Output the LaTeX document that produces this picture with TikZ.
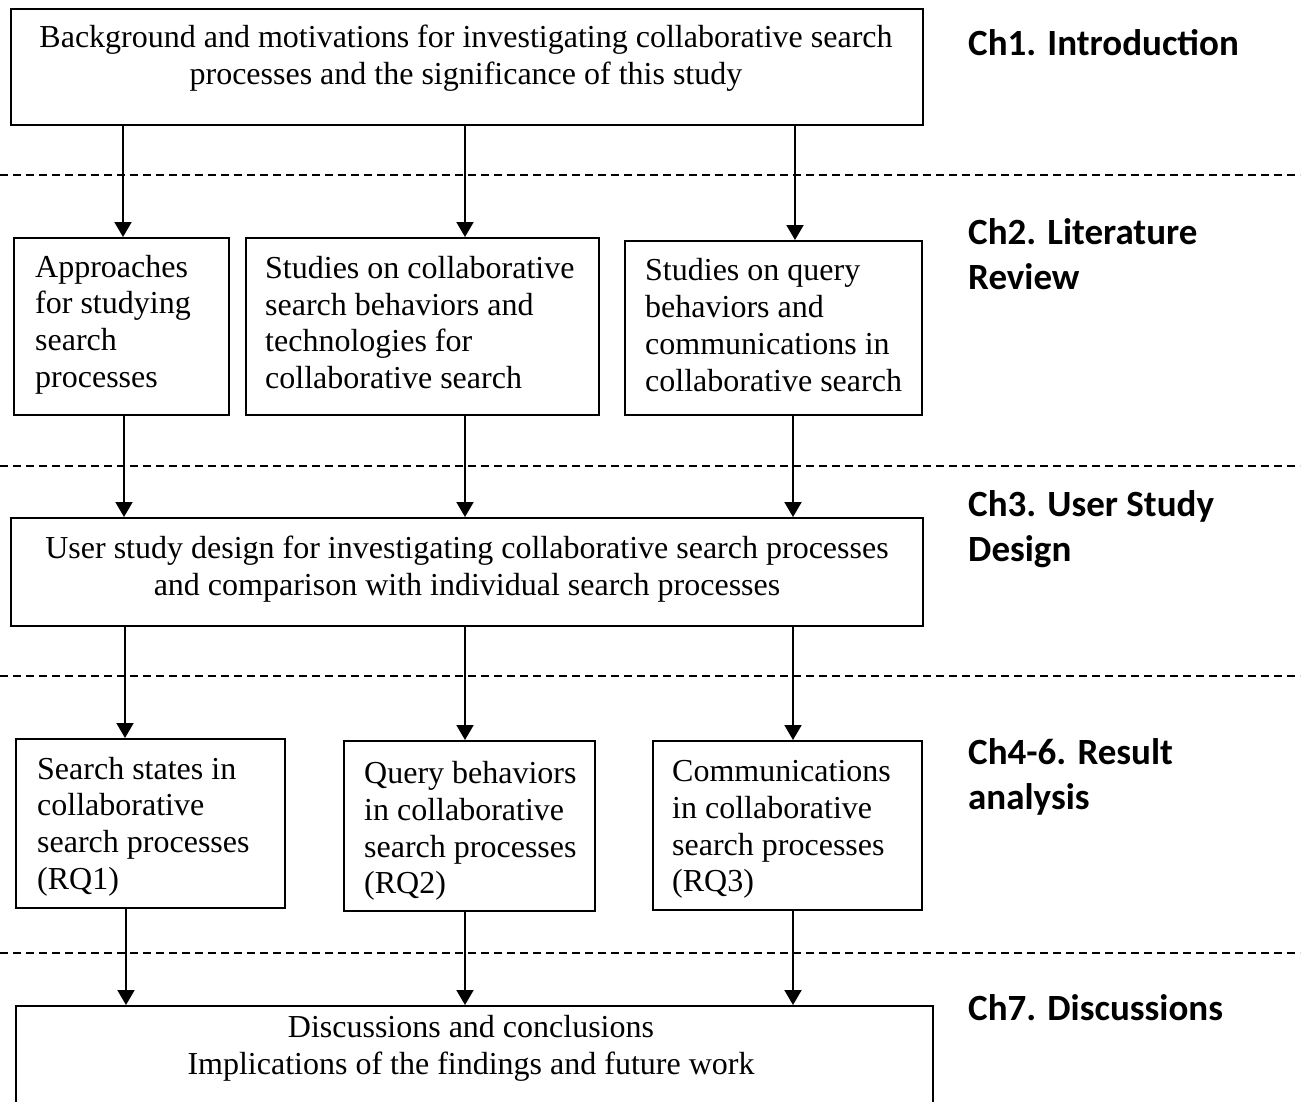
\documentclass[tikz,border=0pt]{standalone}
\usepackage{fontspec}
\setmainfont{Liberation Serif}
\newfontfamily\chapfont{Carlito}
\usetikzlibrary{arrows.meta}
\begin{document}
\begin{tikzpicture}[x=1pt,y=-1pt,
  box/.style={draw,line width=2pt,inner sep=0pt,anchor=north west},
  body/.style={align=center,inner sep=0pt,font=\fontsize{32}{36.8}\selectfont},
  lbody/.style={body,align=left,anchor=west},
  chap/.style={anchor=base west,inner sep=0pt,align=left,font=\chapfont\bfseries\fontsize{37}{45}\selectfont},
  arr/.style={line width=2pt,-{Triangle[width=17pt,length=15pt]}},
  sep/.style={line width=1.3pt,dash pattern=on 8pt off 5pt}]
\path[use as bounding box] (0,0) rectangle (1307,1101);
\clip (0,0) rectangle (1307,1101);

% chapter separators
\foreach \yy in {175,466,676,953}
  \draw[sep] (0,\yy) -- (1300,\yy);

% Ch1
\node[box,minimum width=912pt,minimum height=116pt] (intro) at (10,8) {};
\node[body] (introtxt) at (466,58) {Background and motivations for investigating collaborative search\\processes and the significance of this study};

% Ch2
\node[box,minimum width=215pt,minimum height=177pt] (litA) at (13,237) {};
\node[box,minimum width=353pt,minimum height=177pt] (litB) at (245,237) {};
\node[box,minimum width=297pt,minimum height=174pt] (litC) at (624,240) {};
\node[lbody] (litAtxt) at ([xshift=22pt,yshift=2pt]litA.west) {Approaches\\for studying\\search\\processes};
\node[lbody] (litBtxt) at ([xshift=20pt,yshift=4pt]litB.west) {Studies on collaborative\\search behaviors and\\technologies for\\collaborative search};
\node[lbody] (litCtxt) at ([xshift=21pt,yshift=3pt]litC.west) {Studies on query\\behaviors and\\communications in\\collaborative search};

% Ch3
\node[box,minimum width=912pt,minimum height=108pt] (design) at (10,517) {};
\node[body] (designtxt) at (467,569) {User study design for investigating collaborative search processes\\and comparison with individual search processes};

% Ch4-6
\node[box,minimum width=269pt,minimum height=169pt] (resA) at (15,738) {};
\node[box,minimum width=251pt,minimum height=170pt] (resB) at (343,740) {};
\node[box,minimum width=269pt,minimum height=169pt] (resC) at (652,740) {};
\node[lbody] (resAtxt) at ([xshift=22pt,yshift=-3pt]resA.west) {Search states in\\collaborative\\search processes\\(RQ1)};
\node[lbody] (resBtxt) at ([xshift=21pt,yshift=-5pt]resB.west) {Query behaviors\\in collaborative\\search processes\\(RQ2)};
\node[lbody] (resCtxt) at ([xshift=20pt,yshift=-4pt]resC.west) {Communications\\in collaborative\\search processes\\(RQ3)};

% Ch7
\node[box,minimum width=917pt,minimum height=130pt] (disc) at (15,1005) {};
\node[body] (disctxt) at (471,1048) {Discussions and conclusions\\Implications of the findings and future work};

% arrows between stages
\draw[arr] (intro.south -| 123,0) -- (litA.north -| 123,0);
\draw[arr] (intro.south -| 465,0) -- (litB.north -| 465,0);
\draw[arr] (intro.south -| 795,0) -- (litC.north -| 795,0);

\draw[arr] (litA.south -| 124,0) -- (design.north -| 124,0);
\draw[arr] (litB.south -| 465,0) -- (design.north -| 465,0);
\draw[arr] (litC.south -| 793,0) -- (design.north -| 793,0);

\draw[arr] (design.south -| 125,0) -- (resA.north -| 125,0);
\draw[arr] (design.south -| 465,0) -- (resB.north -| 465,0);
\draw[arr] (design.south -| 793,0) -- (resC.north -| 793,0);

\draw[arr] (resA.south -| 126,0) -- (disc.north -| 126,0);
\draw[arr] (resB.south -| 465,0) -- (disc.north -| 465,0);
\draw[arr] (resC.south -| 793,0) -- (disc.north -| 793,0);

% chapter labels
\node[chap] (ch1) at (968,55) {Ch1. Introduction};
\node[chap] (ch2) at (968,289) {Ch2. Literature\\Review};
\node[chap] (ch3) at (968,561) {Ch3. User Study\\Design};
\node[chap] (ch4) at (968,809) {Ch4-6. Result\\analysis};
\node[chap] (ch7) at (968,1020) {Ch7. Discussions};
\end{tikzpicture}
\end{document}
